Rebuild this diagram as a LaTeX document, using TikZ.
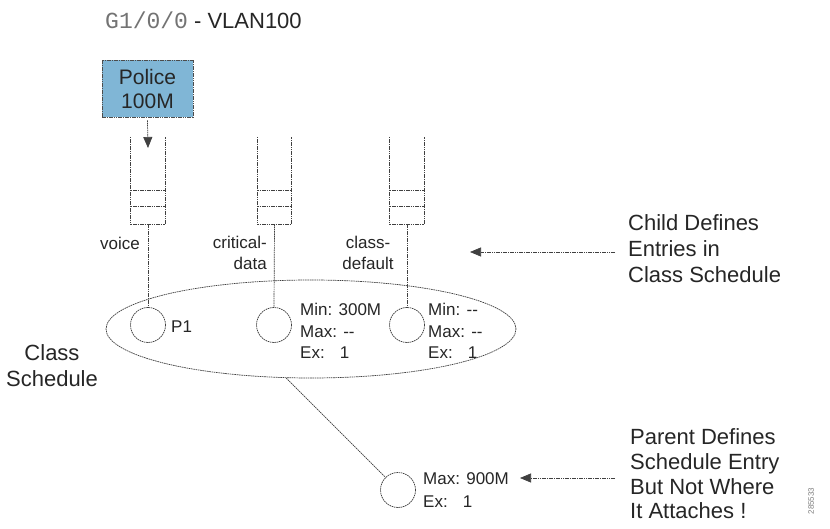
\documentclass[tikz,border=0pt]{standalone}
\usepackage{fontspec}
\setmainfont{Liberation Sans}
\newfontfamily\monofont{Liberation Mono}
\usetikzlibrary{shapes.geometric,arrows.meta,calc}
\definecolor{policeblue}{RGB}{128,182,214}
\begin{document}
\begin{tikzpicture}[x=1pt,y=-1pt,
  dl/.style={draw=black!75, line width=0.7pt, dash pattern=on 1.6pt off 0.7pt},
  qbox/.style={minimum width=34pt, minimum height=87pt, inner sep=0},
  slot/.style={circle, dl, minimum size=35pt, inner sep=0},
  small/.style={font=\fontsize{17}{21.5}\selectfont, inner sep=0, text=black!85},
  big/.style={font=\fontsize{22}{26}\selectfont, inner sep=0, text=black!85, align=left},
  arr/.style={dl, -{Triangle[length=11pt,width=9pt]}}
]
\useasboundingbox[fill=white] (0,0) rectangle (830,529);

% title
\node[anchor=west, inner sep=0, font=\fontsize{22}{26}\selectfont, text=black!85] (title) at (105,20)
  {{\fontsize{23}{26}\monofont\color{black!55}G1/0/0} - VLAN100};

% policer
\node[draw=black!70, dash pattern=on 1.6pt off 0.7pt, line width=0.7pt, fill=policeblue,
  minimum width=91pt, minimum height=57pt, align=center, inner sep=0,
  font=\fontsize{21}{24}\selectfont, text=black!85] (police) at (147.5,88.5) {Police\\100M};
\coordinate (pa) at (148,148);
\draw[arr] ($(police.south)+(0,3)$) -- (pa);

% queues
\node[qbox] (q1) at (148,180.5) {};
\node[qbox] (q2) at (274.5,180.5) {};
\node[qbox] (q3) at (407,180.5) {};
\foreach \q in {q1,q2,q3}{
  \draw[dl] (\q.north west) -- (\q.south west) -- (\q.south east) -- (\q.north east);
  \draw[dl] ($(\q.south west)+(0,-18)$) -- ($(\q.south east)+(0,-18)$);
  \draw[dl] ($(\q.south west)+(0,-34)$) -- ($(\q.south east)+(0,-34)$);
}

% queue labels
\node[small, anchor=east] (lv) at (140,243) {voice};
\node[small, anchor=east, align=right] (lc) at (267,253) {critical-\\data};
\node[small, align=center] (ld) at (368,253) {class-\\default};

% class schedule
\node[ellipse, dl, minimum width=410pt, minimum height=98pt, inner sep=0] (sched) at (311,329) {};
\node[slot] (c1) at (148,325) {};
\node[slot] (c2) at (274,325) {};
\node[slot] (c3) at (407,325) {};
\draw[dl] (q1.south) -- (c1.north);
\draw[dl] (q2.south) -- (c2.north);
\draw[dl] (q3.south) -- (c3.north);

\node[small, anchor=west] (p1) at (171,327) {P1};
\node[small, anchor=west, align=left] (t2) at (300,331) {Min: 300M\\Max: -{}-\\Ex:\hspace{15pt}1};
\node[small, anchor=west, align=left] (t3) at (428,331) {Min: -{}-\\Max: -{}-\\Ex:\hspace{15pt}1};

\node[big, align=center] (cs) at (52,366) {Class\\Schedule};

% parent entry
\node[slot] (c4) at (398,490) {};
\draw[dl] (sched.243) -- (c4);
\node[font=\fontsize{17}{23.5}\selectfont, inner sep=0, text=black!85, anchor=west, align=left] (t4) at (423,490) {Max: 900M\\Ex:\hspace{15pt}1};

% annotations
\node[big, anchor=west] (child) at (628,248.5) {Child Defines\\Entries in\\Class Schedule};
\coordinate (ca) at (470,252);
\draw[arr] (615,252) -- (ca);

\node[big, anchor=west, font=\fontsize{22}{24.7}\selectfont] (parent) at (630,474) {Parent Defines\\Schedule Entry\\But Not Where\\It Attaches !};
\coordinate (pb) at (520,478);
\draw[arr] (615,478) -- (pb);

\node[rotate=90, font=\fontsize{8}{8}\selectfont, text=black!50, inner sep=0] (fig) at (811,501) {285533};
\end{tikzpicture}
\end{document}
